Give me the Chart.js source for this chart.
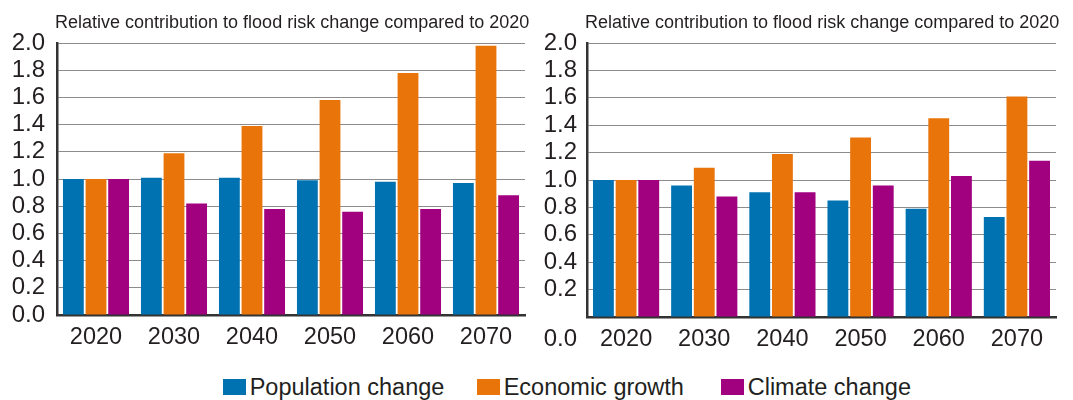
<!DOCTYPE html>
<html><head><meta charset="utf-8">
<script src="https://cdn.jsdelivr.net/npm/chart.js@4/dist/chart.umd.min.js"></script>
<style>
body{margin:0;width:1073px;height:400px;background:#fff;position:relative;overflow:hidden;font-family:"Liberation Sans",Arial,sans-serif}
#c1{position:absolute;left:0;top:0}
#c2{position:absolute;left:530px;top:0}
.item{position:absolute;top:379px;height:16px;display:flex;align-items:center;font-size:23.5px;color:#231f20;white-space:nowrap}
.box{width:23px;height:16px;margin-right:4px;flex:none}
</style>
</head><body>
<canvas id="c1" width="530" height="360"></canvas>
<canvas id="c2" width="543" height="360"></canvas>
<script>
const years = ["2020","2030","2040","2050","2060","2070"];
const yTicks = [0,0.2,0.4,0.6,0.8,1.0,1.2,1.4,1.6,1.8,2.0];
const titleText = "Relative contribution to flood risk change compared to 2020";
const seriesNames = ["Population change","Economic growth","Climate change"];
const seriesColors = ["#0072b1","#e8740a","#a1007e"];

const leftPopulation = [1.00,1.01,1.01,0.99,0.98,0.97];
const leftEconomic   = [1.00,1.19,1.39,1.58,1.78,1.98];
const leftClimate    = [1.00,0.82,0.78,0.76,0.78,0.88];

const rightPopulation = [1.00,0.96,0.91,0.85,0.79,0.73];
const rightEconomic   = [1.00,1.09,1.19,1.31,1.45,1.61];
const rightClimate    = [1.00,0.88,0.91,0.96,1.03,1.14];

const FONT = '"Liberation Sans", Arial, sans-serif';
const TXT = '#231f20';
const X_SIZE = 23.5;
const Y_SIZE = 24;

const titlePlugin = {
  id:'ttl',
  afterDraw(chart, args, opts){
    const ctx = chart.ctx; const a = chart.chartArea;
    ctx.save();
    ctx.font = '18px ' + FONT;
    ctx.fillStyle = TXT;
    ctx.textBaseline = 'alphabetic';
    ctx.textAlign = 'left';
    ctx.fillText(opts.text, a.left - 2, 28);
    if (opts.dropZero) {
      const ys = chart.scales.y;
      ctx.font = Y_SIZE + 'px ' + FONT;
      ctx.textAlign = 'right';
      ctx.textBaseline = 'middle';
      ctx.fillText('0.0', a.left - opts.yPad, ys.getPixelForValue(0) + 22);
    }
    ctx.restore();
  }
};

function makeChart(id, pop, eco, cli, padRight, xHeight, yPad, dropZero){
  const vals = [pop, eco, cli];
  new Chart(document.getElementById(id), {
    type:'bar',
    data:{
      labels: years,
      datasets: vals.map((v,i)=>({label:seriesNames[i], data:v, backgroundColor:seriesColors[i], borderWidth:0, barPercentage:0.92, categoryPercentage:0.87}))
    },
    options:{
      responsive:false, animation:false,
      layout:{padding:{top:43,right:padRight,left:0,bottom:0}},
      plugins:{legend:{display:false}, tooltip:{enabled:false}, ttl:{text:titleText, dropZero:dropZero, yPad:yPad}},
      scales:{
        x:{
          grid:{display:false, drawTicks:false},
          border:{display:true,color:'#333',width:2.5},
          ticks:{font:{size:X_SIZE,family:FONT},color:TXT,padding:8,maxRotation:0,autoSkip:false},
          afterFit(s){ s.height = xHeight; }
        },
        y:{
          min:0,max:2.0,
          grid:{color:'#8c8c8c',lineWidth:1,drawTicks:false},
          border:{display:true,color:'#333',width:2.5},
          afterBuildTicks(s){ s.ticks = yTicks.map(v=>({value:v})); },
          ticks:{font:{size:Y_SIZE,family:FONT},color:TXT,padding:yPad,autoSkip:false,
            callback:(v)=> (dropZero && v===0) ? '' : Number(v).toFixed(1)},
          afterFit(s){ s.width = 57; }
        }
      }
    },
    plugins:[titlePlugin]
  });
}

makeChart('c1', leftPopulation, leftEconomic, leftClimate, 5, 45, 12, false);
makeChart('c2', rightPopulation, rightEconomic, rightClimate, 17, 43, 10, true);

const legendLeft = [222.7, 476.7, 720.7];
seriesNames.forEach((n,i)=>{
  const it = document.createElement('div'); it.className='item';
  it.style.left = legendLeft[i] + 'px';
  const b = document.createElement('div'); b.className='box'; b.style.background = seriesColors[i];
  const t = document.createElement('span'); t.textContent = n;
  it.appendChild(b); it.appendChild(t); document.body.appendChild(it);
});
</script>
</body></html>
